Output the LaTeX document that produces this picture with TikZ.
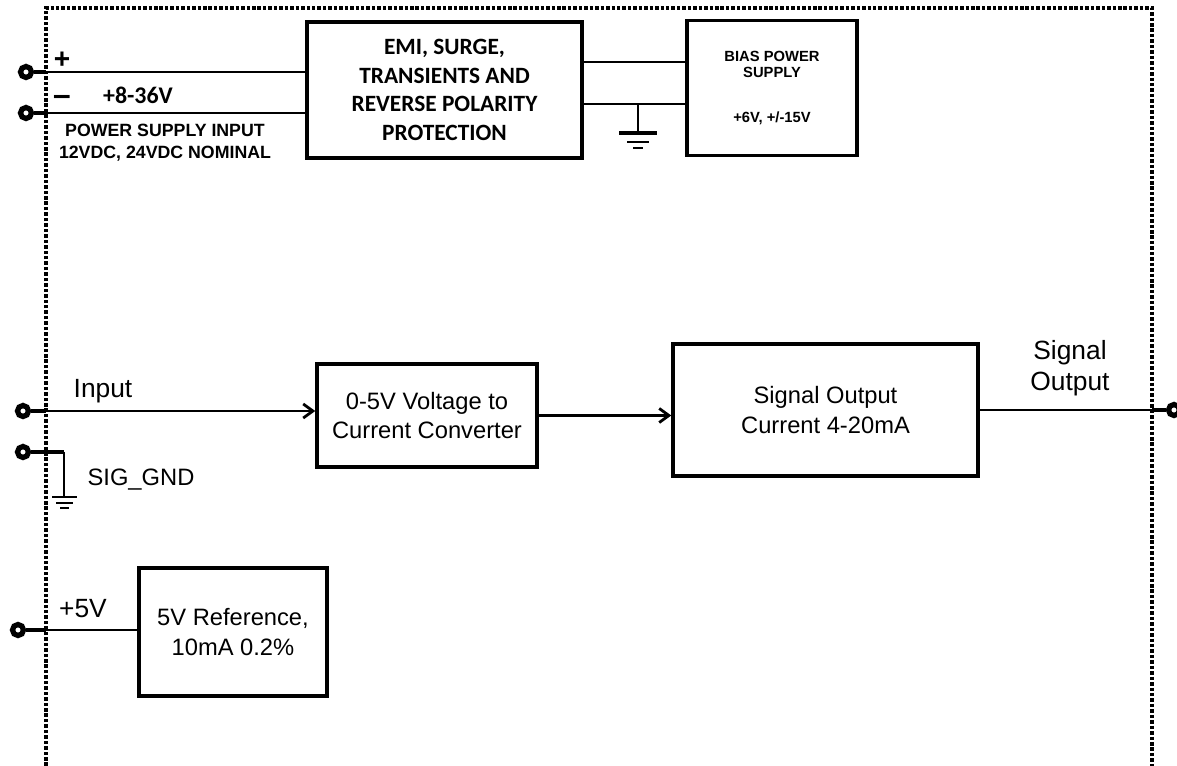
\documentclass[tikz,border=0pt]{standalone}
\usepackage{fontspec}
\setmainfont{Liberation Sans}
\newfontfamily\calfont{Carlito}
\usetikzlibrary{positioning}
\usetikzlibrary{calc}
\usetikzlibrary{arrows.meta}
\tikzset{blk/.style={draw,line width=2pt,inner sep=0pt,align=center,font=\fontsize{13.5}{16.6}\selectfont}}
\tikzset{wire/.style={line width=1.6pt}}
\tikzset{stub/.style={line width=2.6pt}}
\tikzset{term/.style={circle,draw,line width=3pt,minimum size=0.22cm,inner sep=0pt}}
\tikzset{lbl/.style={font=\fontsize{15}{17.6}\selectfont,align=center}}
\tikzset{bold/.style={font=\bfseries\fontsize{10.1}{12.5}\selectfont,align=center}}
\tikzset{border/.style={line width=1.8pt,dash pattern=on 2pt off 1.1pt}}
\tikzset{>={Straight Barb[length=5.5pt,width=8pt]}}

\begin{document}
\begin{tikzpicture}[x=0.02cm,y=-0.02cm]
        \useasboundingbox (0,0) rectangle (1177,766);

        \coordinate (nw) at (46,8);
        \coordinate (ne) at (1152,8);
        \draw[border] (nw |- 0,766) -- (nw) -- (ne) -- (ne |- 0,766);

        \node[blk,minimum width=5.5cm,minimum height=2.72cm,font=\calfont\bfseries\fontsize{13.3}{16.4}\selectfont] (emi) at (444.5,90) {EMI, SURGE,\\TRANSIENTS AND\\REVERSE POLARITY\\PROTECTION};
        \node[blk,minimum width=3.4cm,minimum height=2.7cm,font=\bfseries\fontsize{8.4}{9.6}\selectfont] (bias) at (772,88) {BIAS POWER\\SUPPLY\\[16pt]+6V, +/-15V};
        \node[blk,minimum width=4.4cm,minimum height=2.06cm] (conv) at (427,415.5) {0-5V Voltage to\\Current Converter};
        \node[blk,minimum width=6.1cm,minimum height=2.64cm] (sig) at (825.5,410) {Signal Output\\Current 4-20mA};
        \node[blk,minimum width=3.76cm,minimum height=2.56cm] (ref) at (233,632) {5V Reference,\\10mA 0.2\%};

        \node[term] (tplus) at (26,72) {};
        \node[term] (tminus) at (26,113) {};
        \node[term] (tin) at (23,411) {};
        \node[term] (tgnd) at (23,452) {};
        \node[term] (tref) at (18,630) {};
        \node[term] (tout) at (1174,410) {};

        \draw[wire] (tplus) -- (tplus -| emi.west);
        \draw[wire] (tminus) -- (tminus -| emi.west);
        \draw[stub] (tplus) -- (tplus -| nw);
        \draw[stub] (tminus) -- (tminus -| nw);

        \draw[wire] ([yshift=0.56cm]emi.east) -- ([yshift=0.56cm]emi.east -| bias.west);
        \draw[wire] ([yshift=-0.28cm]emi.east) -- ([yshift=-0.28cm]emi.east -| bias.west);

        \coordinate (pg) at (638,104);
        \draw[wire] (pg) -- ++(0,29);
        \draw[line width=2.6pt] ($(pg)+(-19,29)$) -- ++(38,0);
        \draw[line width=1.2pt] ($(pg)+(-11,38)$) -- ++(22,0);
        \draw[line width=1.2pt] ($(pg)+(-5,44)$) -- ++(10,0);

        \draw[wire,->] (tin) -- (tin -| conv.west);
        \draw[stub] (tin) -- (tin -| nw);
        \draw[wire,->] (conv.east) -- (conv.east -| sig.west);
        \draw[wire] (sig.east) -- (sig.east -| ne);
        \draw[stub] (tout) -- (sig.east -| ne);

        \coordinate (sg) at (64,452);
        \draw[stub] (tgnd) -- (sg);
        \draw[line width=0.6pt] (sg) -- ++(0,45);
        \draw[line width=0.6pt] ($(sg)+(-12,45)$) -- ++(25,0);
        \draw[line width=0.6pt] ($(sg)+(-8,51)$) -- ++(17,0);
        \draw[line width=0.6pt] ($(sg)+(-4,56)$) -- ++(9,0);

        \draw[wire] (tref) -- (tref -| ref.west);
        \draw[stub] (tref) -- (tref -| nw);

        \node[font=\bfseries\fontsize{16}{18}\selectfont] (plus) at (62,60) {+};
        \node[font=\bfseries\fontsize{18}{18}\selectfont] (minus) at (62,100) {--};
        \node[font=\calfont\bfseries\fontsize{13.6}{16}\selectfont] (vrange) at (138,95) {+8-36V};
        \node[bold] (psin) at (165,143) {POWER SUPPLY INPUT\\12VDC, 24VDC NOMINAL};
        \node[lbl] (inlbl) at (103,391) {Input};
        \node[lbl] (outlbl) at (1070,368) {Signal\\Output};
        \node[lbl,font=\fontsize{13.5}{16}\selectfont] (gndlbl) at (141,480) {SIG\_GND};
        \node[lbl] (vreflbl) at (83,609) {+5V};
    \end{tikzpicture}
\end{document}
